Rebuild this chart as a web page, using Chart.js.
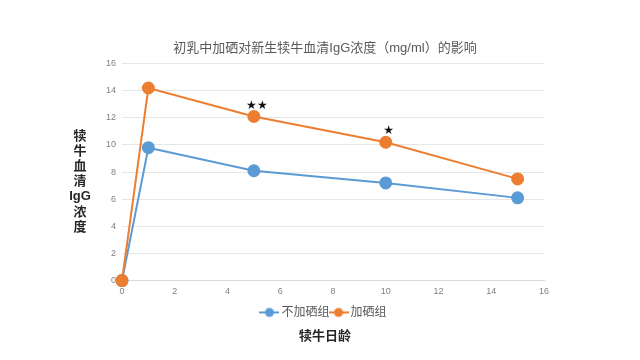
<!DOCTYPE html>
<html>
<head>
<meta charset="utf-8">
<script src="https://cdn.jsdelivr.net/npm/chart.js@4.4.0/dist/chart.umd.min.js"></script>
<style>
  html, body { margin: 0; padding: 0; background: #fff; }
  #box { width: 640px; height: 360px; }
</style>
</head>
<body>
<div id="box"><canvas id="myChart"></canvas></div>
<script>
/* data */
var dagen = [0, 1, 5, 10, 15];
var zonderSe = [0, 9.8, 8.1, 7.2, 6.1];
var metSe = [0, 14.2, 12.1, 10.2, 7.5];
var sterren = ['', '', '★★', '★', ''];
var reeksNamen = ['不加硒组', '加硒组'];
var kleuren = ['#5B9BD5', '#ED7D31'];
var yTitel = ['犊', '牛', '血', '清', 'IgG', '浓', '度'];

var font = '"Liberation Sans", "Noto Sans CJK SC", sans-serif';

function punten(xs, ys) {
    return xs.map(function (x, i) { return {x: x, y: ys[i]}; });
}

// legend marker: line with circle
function marker(kleur) {
    var c = document.createElement('canvas');
    c.width = 20; c.height = 12;
    var g = c.getContext('2d');
    g.strokeStyle = kleur; g.lineWidth = 2;
    g.beginPath(); g.moveTo(0, 6); g.lineTo(20, 6); g.stroke();
    g.fillStyle = kleur;
    g.beginPath(); g.arc(10, 6, 4.5, 0, Math.PI * 2); g.fill();
    return c;
}

// stars above the orange points + vertical y title
var extra = {
    id: 'extra',
    afterDatasetsDraw: function (chart) {
        var ctx = chart.ctx;
        var meta = chart.getDatasetMeta(1);
        ctx.save();
        ctx.fillStyle = '#111';
        ctx.font = '12px "DejaVu Sans", sans-serif';
        ctx.textAlign = 'center';
        ctx.textBaseline = 'bottom';
        meta.data.forEach(function (p, i) {
            if (sterren[i]) ctx.fillText(sterren[i], p.x + 3, p.y - 5);
        });
        ctx.font = 'bold 13px ' + font;
        ctx.fillStyle = '#262626';
        ctx.textBaseline = 'middle';
        yTitel.forEach(function (t, i) {
            ctx.fillText(t, 80, 136 + i * 15.2);
        });
        ctx.restore();
    }
};

var ctx = document.getElementById('myChart').getContext('2d');
var chart = new Chart(ctx, {
    type: 'line',
    data: {
        datasets: [{
            label: reeksNamen[0],
            data: punten(dagen, zonderSe),
            borderColor: kleuren[0],
            backgroundColor: kleuren[0],
            pointStyle: 'circle',
            pointRadius: 5.5,
            pointHoverRadius: 5.5,
            borderWidth: 2,
            order: 1,
            clip: false
        }, {
            label: reeksNamen[1],
            data: punten(dagen, metSe),
            borderColor: kleuren[1],
            backgroundColor: kleuren[1],
            pointStyle: 'circle',
            pointRadius: 5.5,
            pointHoverRadius: 5.5,
            borderWidth: 2,
            order: 0,
            clip: false
        }]
    },
    options: {
        responsive: true,
        maintainAspectRatio: false,
        animation: false,
        layout: { padding: { left: 106, right: 96, top: 41, bottom: 16 } },
        plugins: {
            title: {
                display: true,
                text: '初乳中加硒对新生犊牛血清IgG浓度（mg/ml）的影响',
                color: '#595959',
                font: { family: font, size: 13, weight: 'normal' },
                padding: { top: 0, bottom: 7 }
            },
            subtitle: {
                display: true,
                position: 'bottom',
                text: '犊牛日龄',
                color: '#262626',
                font: { family: font, size: 13, weight: 'bold' },
                padding: { top: 0, bottom: 0 }
            },
            legend: {
                position: 'bottom',
                labels: {
                    color: '#595959',
                    font: { family: font, size: 12 },
                    usePointStyle: true,
                    padding: 3,
                    generateLabels: function (chart) {
                        return chart.data.datasets.map(function (d, i) {
                            return {
                                text: d.label,
                                fillStyle: d.backgroundColor,
                                strokeStyle: d.borderColor,
                                pointStyle: marker(d.borderColor),
                                datasetIndex: i,
                                hidden: false,
                                fontColor: '#595959'
                            };
                        });
                    }
                }
            },
            tooltip: { enabled: false }
        },
        scales: {
            x: {
                type: 'linear',
                min: 0,
                max: 16,
                grid: { display: false, tickLength: 0 },
                border: { display: true, color: '#d9d9d9' },
                ticks: {
                    stepSize: 2,
                    color: '#7f7f7f',
                    font: { family: font, size: 9 },
                    padding: 6
                }
            },
            y: {
                min: 0,
                max: 16,
                afterFit: function (s) { s.width = 16; },
                grid: { color: '#e6e6e6', drawTicks: false },
                border: { display: false },
                ticks: {
                    stepSize: 2,
                    color: '#7f7f7f',
                    font: { family: font, size: 9 },
                    padding: 6
                }
            }
        }
    },
    plugins: [extra]
});
</script>
</body>
</html>
